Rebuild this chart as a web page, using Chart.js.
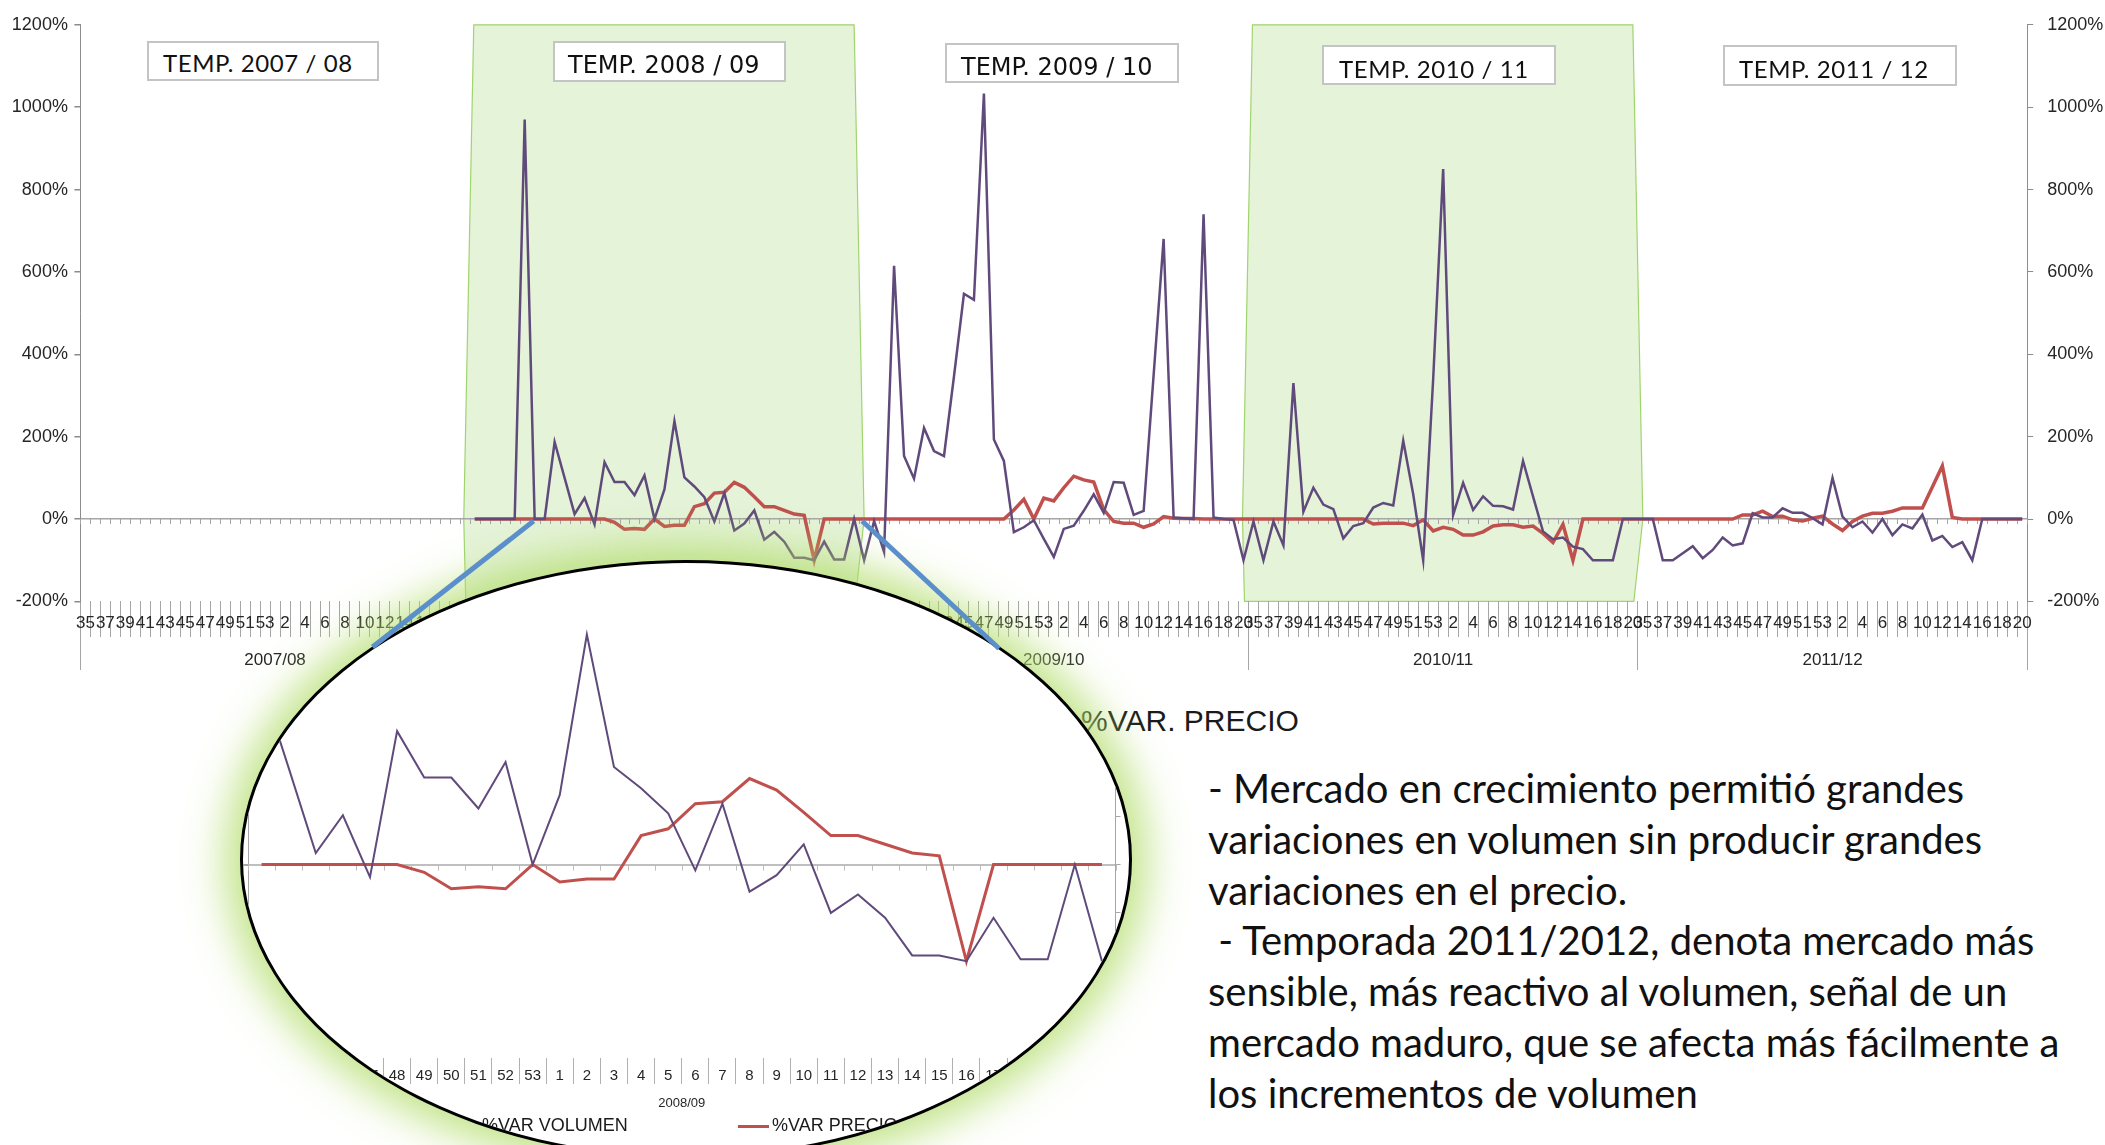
<!DOCTYPE html>
<html lang="es">
<head>
<meta charset="utf-8">
<title>%VAR. VOLUMEN / %VAR. PRECIO</title>
<script src="https://cdn.jsdelivr.net/npm/chart.js@4.4.1/dist/chart.umd.min.js"></script>
<style>
  html, body { margin: 0; padding: 0; background: #fff; }
  body { position: relative; width: 2105px; height: 1145px; overflow: hidden; font-family: 'Liberation Sans', Arial, sans-serif; color: #1a1a1a; }
  #mainBox { position: absolute; left: 0; top: 0; width: 2105px; height: 700px; }
  .temp { position: absolute; box-sizing: border-box; border: 2px solid #c4c4c4; background: #fff; white-space: nowrap; color: #111; z-index: 2; }
  .calibri { font-family: Lato, 'Open Sans', sans-serif; font-size: 24px; line-height: 28px; letter-spacing: 0.6px; }
  .gothic { font-family: 'DejaVu Sans', Verdana, sans-serif; font-size: 24px; line-height: 27px; }
  .lg { position: absolute; white-space: nowrap; color: #1a1a1a; }
  .mk { position: absolute; height: 0; border-top: 3px solid; }
  #zoom { position: absolute; left: 240px; top: 560px; width: 892px; height: 599px; box-sizing: border-box; border: 3px solid #000; border-radius: 50%; overflow: hidden; background: #fff; box-shadow: 0 0 42px 15px rgba(178, 220, 105, 0.8); z-index: 5; }
  #zoomBox { position: absolute; left: -43px; top: -3px; width: 960px; height: 585px; }
  #notes { position: absolute; left: 1208px; top: 763px; font-family: Lato, 'Open Sans', sans-serif; font-size: 40px; line-height: 50.8px; white-space: pre; color: #111; }
  #links { position: absolute; left: 0; top: 0; z-index: 6; pointer-events: none; }
</style>
</head>
<body>
<div id="mainBox"><canvas id="mainChart"></canvas></div>

<div class="temp calibri" style="left:147px;top:41px;width:232px;height:40px;padding:6px 0 0 14px;">TEMP. 2007 / 08</div>
<div class="temp gothic" style="left:553px;top:41px;width:233px;height:41px;padding:9px 0 0 13px;">TEMP. 2008 / 09</div>
<div class="temp gothic" style="left:945px;top:43px;width:234px;height:40px;padding:9px 0 0 14px;">TEMP. 2009 / 10</div>
<div class="temp calibri" style="left:1322px;top:45px;width:234px;height:40px;padding:8px 0 0 15px;">TEMP. 2010 / 11</div>
<div class="temp calibri" style="left:1723px;top:45px;width:234px;height:41px;padding:8px 0 0 14px;">TEMP. 2011 / 12</div>

<div id="mainLegend">
  <span class="mk" style="left:725px;top:721px;width:32px;border-color:#604a7b;"></span>
  <span class="lg" style="left:762px;top:704px;font-size:30px;">%VAR. VOLUMEN</span>
  <span class="mk" style="left:1041px;top:721px;width:32px;border-color:#c0504d;"></span>
  <span class="lg" style="left:1081px;top:704px;font-size:30px;">%VAR. PRECIO</span>
</div>

<div id="zoom">
  <div id="zoomBox"><canvas id="insetChart"></canvas></div>
  <span class="mk" style="left:204px;top:562px;width:31px;border-color:#604a7b;"></span>
  <span class="lg" style="left:239px;top:552px;font-size:18px;">%VAR VOLUMEN</span>
  <span class="mk" style="left:495px;top:562px;width:31px;border-color:#c0504d;"></span>
  <span class="lg" style="left:529px;top:552px;font-size:18px;">%VAR PRECIO</span>
</div>

<svg id="links" width="2105" height="1145"></svg>

<div id="notes">- Mercado en crecimiento permitió grandes
variaciones en volumen sin producir grandes
variaciones en el precio.
 - Temporada 2011/2012, denota mercado más
sensible, más reactivo al volumen, señal de un
mercado maduro, que se afecta más fácilmente a
los incrementos de volumen</div>

<script>
// temporadas y semanas (eje de categorías)
const seasons = ['2007/08', '2008/09', '2009/10', '2010/11', '2011/12'];
const seasonWeeks = ['35','36','37','38','39','40','41','42','43','44','45','46','47','48','49','50','51','52','53',
                     '1','2','3','4','5','6','7','8','9','10','11','12','13','14','15','16','17','18','19','20'];
const shadedSeasons = [1, 3];
const insetWeeks = ['43','44','45','46','47','48','49','50','51','52','53',
                    '1','2','3','4','5','6','7','8','9','10','11','12','13','14','15','16','17','18','19','20','35'];

// %VAR VOLUMEN por temporada
const volumen0708 = [null,null,null,null,null,null,null,null,null,null,null,null,null,null,null,null,null,null,null,
                     null,null,null,null,null,null,null,null,null,null,null,null,null,null,null,null,null,null,null,null];
const volumen0809 = [0,0,0,0,0,970,0,0,187,100,12,51,-13,138,90,90,58,106,0,
                     72,238,101,79,53,-6,63,-28,-11,21,-50,-31,-55,-94,-94,-100,-55,-98,-98,0];
const volumen0910 = [-100,-5,-80,615,153,98,221,165,153,346,547,532,1033,193,141,-32,-20,-3,-48,
                     -92,-24,-16,20,60,15,90,88,10,20,350,680,4,2,0,740,4,0,-2,-100];
const volumen1011 = [-6,-100,-6,-64,330,18,76,35,24,-47,-17,-10,28,39,33,190,60,-100,340,
                     850,10,88,22,55,32,31,23,141,55,-30,-49,-45,-67,-73,-100,-100,-100,0,0];
const volumen1112 = [0,0,-100,-100,-83,-66,-95,-75,-45,-64,-59,14,4,4,26,15,15,2,-13,
                     100,6,-20,-6,-33,0,-39,-13,-23,11,-52,-41,-68,-56,-100,0,0,0,0,0];

// %VAR PRECIO por temporada
const precio0708 = [null,null,null,null,null,null,null,null,null,null,null,null,null,null,null,null,null,null,null,
                    null,null,null,null,null,null,null,null,null,null,null,null,null,null,null,null,null,null,null,null];
const precio0809 = [0,0,0,0,0,0,0,0,0,0,0,0,0,0,-8,-25,-23,-25,0,
                    -18,-15,-15,30,37,63,65,89,77,54,30,30,21,12,9,-100,0,0,0,0];
const precio0910 = [0,0,0,0,0,0,0,0,0,0,0,0,0,0,0,22,48,0,51,
                    44,76,104,95,90,23,-6,-10,-10,-20,-12,6,2,1,1,0,0,0,0,0];
const precio1011 = [0,0,0,0,0,0,0,0,0,0,0,0,-12,-10,-10,-10,-16,-2,-29,
                    -20,-25,-39,-39,-31,-17,-14,-14,-20,-17,-35,-57,-13,-100,0,0,0,0,0,0];
const precio1112 = [0,0,0,0,0,0,0,0,0,0,10,10,19,6,7,-2,-5,2,7,
                    -12,-28,-6,7,14,14,19,27,27,27,78,129,4,0,0,0,0,0,0,0];

const PURPLE = '#604a7b';
const RED = '#c0504d';
const AXIS = '#8c8c8c';

const weekLabels = seasons.flatMap(() => seasonWeeks);
const volumen = [].concat(volumen0708, volumen0809, volumen0910, volumen1011, volumen1112);
const precio = [].concat(precio0708, precio0809, precio0910, precio1011, precio1112);

// tramo ampliado en la lupa (temporada 2008/09, desde la semana 43)
const insetFrom = seasonWeeks.length + seasonWeeks.indexOf('43');
const insetVolumen = volumen.slice(insetFrom, insetFrom + insetWeeks.length);
const insetPrecio = precio.slice(insetFrom, insetFrom + insetWeeks.length);

Chart.defaults.font.family = "'Liberation Sans', Arial, sans-serif";
Chart.defaults.color = '#262626';

// franjas verdes de temporada
const seasonBands = {
  id: 'seasonBands',
  beforeDraw(chart, args, opts) {
    const { ctx, chartArea } = chart;
    const x = chart.scales.x, y = chart.scales.y;
    const half = (x.getPixelForValue(1) - x.getPixelForValue(0)) / 2;
    const y0 = y.getPixelForValue(0);
    ctx.save();
    opts.seasons.forEach(s => {
      const x0 = x.getPixelForValue(s * opts.perSeason) - half;
      const x1 = x.getPixelForValue(s * opts.perSeason + opts.perSeason - 1) + half;
      ctx.beginPath();
      ctx.moveTo(x0 + 4, chartArea.top);
      ctx.lineTo(x1 - 5, chartArea.top);
      ctx.lineTo(x1 + 5, y0);
      ctx.lineTo(x1 - 4, chartArea.bottom);
      ctx.lineTo(x0 - 4, chartArea.bottom);
      ctx.lineTo(x0 - 6, y0);
      ctx.closePath();
      ctx.fillStyle = opts.fill;
      ctx.fill();
      ctx.strokeStyle = opts.stroke;
      ctx.lineWidth = 1.2;
      ctx.stroke();
    });
    ctx.restore();
  }
};

// marcas pequeñas bajo la línea del 0%
const zeroTicks = {
  id: 'zeroTicks',
  beforeDatasetsDraw(chart, args, opts) {
    const ctx = chart.ctx;
    const x = chart.scales.x, y = chart.scales.y;
    const n = chart.data.labels.length;
    const step = x.getPixelForValue(1) - x.getPixelForValue(0);
    const start = x.getPixelForValue(0) - step / 2;
    const y0 = y.getPixelForValue(0);
    ctx.save();
    ctx.strokeStyle = opts.color;
    ctx.lineWidth = 1;
    ctx.beginPath();
    for (let i = 0; i <= n; i++) {
      const px = Math.round(start + i * step) + 0.5;
      ctx.moveTo(px, y0);
      ctx.lineTo(px, y0 + opts.len);
    }
    ctx.stroke();
    ctx.restore();
  }
};

function zeroGrid(color) {
  return ctx => (ctx.tick && ctx.tick.value === 0) ? color : 'rgba(0,0,0,0)';
}

const mainChart = new Chart(document.getElementById('mainChart'), {
  type: 'line',
  data: {
    labels: weekLabels,
    datasets: [
      { label: '%VAR. VOLUMEN', data: volumen, borderColor: PURPLE, borderWidth: 2.5, pointRadius: 0, tension: 0 },
      { label: '%VAR. PRECIO', data: precio, borderColor: RED, borderWidth: 3.5, pointRadius: 0, tension: 0 }
    ]
  },
  options: {
    responsive: true,
    maintainAspectRatio: false,
    animation: false,
    events: [],
    layout: { padding: { top: 21.5, left: 0, right: 0, bottom: 0 } },
    plugins: {
      legend: { display: false },
      tooltip: { enabled: false },
      seasonBands: { seasons: shadedSeasons, perSeason: seasonWeeks.length, fill: 'rgb(229,243,217)', stroke: 'rgb(160,212,110)' },
      zeroTicks: { color: '#a6a6a6', len: 5 }
    },
    scales: {
      x: {
        type: 'category',
        position: 'bottom',
        offset: true,
        weight: 0,
        border: { display: false },
        grid: { offset: true, drawOnChartArea: false, tickLength: 35.6, color: '#a6a6a6' },
        ticks: {
          autoSkip: false, maxRotation: 0, minRotation: 0, padding: -23.6,
          font: { size: 17 },
          callback: function (v, i) { return (i % seasonWeeks.length) % 2 === 0 ? this.getLabelForValue(v) : ''; }
        },
        afterFit: s => { s.height = 35.6; }
      },
      x2: {
        type: 'category',
        labels: seasons,
        position: 'bottom',
        offset: true,
        weight: 1,
        border: { display: false },
        grid: { offset: true, drawOnChartArea: false, tickLength: 33, color: '#a6a6a6' },
        ticks: { maxRotation: 0, padding: -20.2, font: { size: 17 } },
        afterFit: s => { s.height = 63; }
      },
      y: {
        position: 'left',
        min: -200, max: 1200,
        border: { display: true, color: AXIS },
        grid: { color: zeroGrid('#a6a6a6'), lineWidth: 1.5, tickColor: AXIS, tickLength: 6 },
        ticks: { stepSize: 200, padding: 6.5, font: { size: 18 }, callback: v => v + '%' },
        afterFit: s => { s.width = 80.4; }
      },
      y2: {
        position: 'right',
        min: -200, max: 1200,
        border: { display: true, color: AXIS },
        grid: { drawOnChartArea: false, tickColor: AXIS, tickLength: 6 },
        ticks: { stepSize: 200, padding: 14, font: { size: 18 }, callback: v => v + '%' },
        afterFit: s => { s.width = 77.8; }
      }
    }
  },
  plugins: [seasonBands, zeroTicks]
});

const insetChart = new Chart(document.getElementById('insetChart'), {
  type: 'line',
  data: {
    labels: insetWeeks,
    datasets: [
      { label: '%VAR VOLUMEN', data: insetVolumen, borderColor: PURPLE, borderWidth: 2, pointRadius: 0, tension: 0 },
      { label: '%VAR PRECIO', data: insetPrecio, borderColor: RED, borderWidth: 3, pointRadius: 0, tension: 0 }
    ]
  },
  options: {
    responsive: true,
    maintainAspectRatio: false,
    animation: false,
    events: [],
    layout: { padding: { top: 14.6, left: 0, right: 0, bottom: 0 } },
    plugins: {
      legend: { display: false },
      tooltip: { enabled: false },
      zeroTicks: { color: '#bfbfbf', len: 6 }
    },
    scales: {
      x: {
        type: 'category',
        position: 'bottom',
        offset: true,
        weight: 0,
        border: { display: false },
        grid: { offset: true, drawOnChartArea: false, tickLength: 26, color: '#b0b0b0' },
        ticks: { autoSkip: false, maxRotation: 0, minRotation: 0, padding: -16.9, font: { size: 15 } },
        afterFit: s => { s.height = 28; }
      },
      x2: {
        type: 'category',
        labels: [seasons[1]],
        position: 'bottom',
        offset: true,
        weight: 1,
        border: { display: false },
        grid: { display: false },
        ticks: { maxRotation: 0, padding: 2, font: { size: 13 } },
        afterFit: s => { s.height = 59.1; }
      },
      y: {
        position: 'left',
        min: -200, max: 300,
        border: { display: true, color: '#a6a6a6' },
        grid: { color: zeroGrid('#bfbfbf'), lineWidth: 2, tickColor: '#a6a6a6', tickLength: 5 },
        ticks: { stepSize: 50, display: false },
        afterFit: s => { s.width = 48; }
      },
      y2: {
        position: 'right',
        min: -200, max: 300,
        border: { display: true, color: '#a6a6a6' },
        grid: { drawOnChartArea: false, tickColor: '#a6a6a6', tickLength: 5 },
        ticks: { stepSize: 50, display: false },
        afterFit: s => { s.width = 44.5; }
      }
    }
  },
  plugins: [zeroTicks]
});

// líneas azules de la lupa, desde el tramo ampliado en el gráfico principal
(function drawLinks() {
  const xs = mainChart.scales.x, ys = mainChart.scales.y;
  const half = (xs.getPixelForValue(1) - xs.getPixelForValue(0)) / 2;
  const y0 = ys.getPixelForValue(0);
  const x0 = xs.getPixelForValue(insetFrom) - half - 16;
  const x1 = xs.getPixelForValue(insetFrom + insetWeeks.length - 2) + half + 3;
  const svg = document.getElementById('links');
  const ends = [[x0, 372.5, 647], [x1, 999, 648.5]];
  ends.forEach(([sx, ex, ey]) => {
    const l = document.createElementNS('http://www.w3.org/2000/svg', 'line');
    l.setAttribute('x1', sx); l.setAttribute('y1', y0 + 2);
    l.setAttribute('x2', ex); l.setAttribute('y2', ey);
    l.setAttribute('stroke', '#5b8fcc');
    l.setAttribute('stroke-width', '5');
    svg.appendChild(l);
  });
})();
</script>
</body>
</html>
